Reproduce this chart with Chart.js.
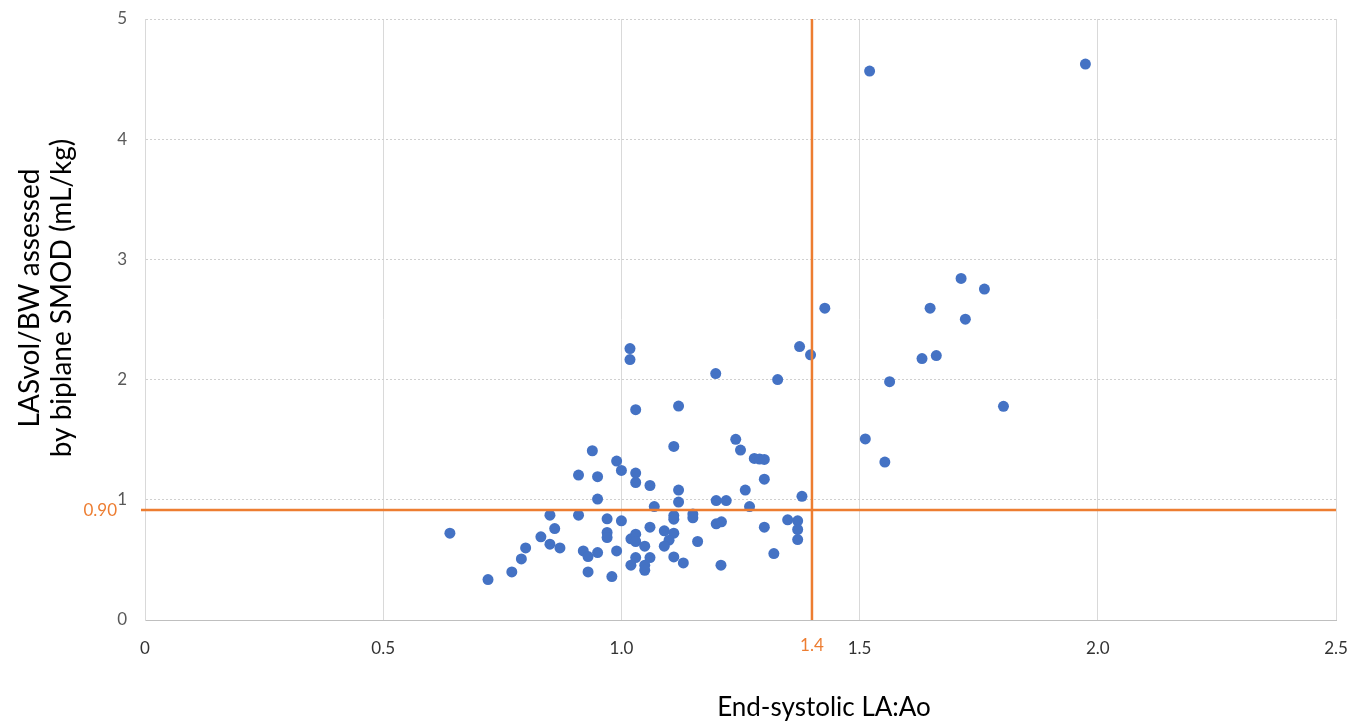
<!DOCTYPE html>
<html>
<head>
<meta charset="utf-8">
<script src="https://cdn.jsdelivr.net/npm/chart.js@4.4.1/dist/chart.umd.min.js"></script>
<style>
  html, body { margin: 0; padding: 0; background: #fff; }
</style>
</head>
<body>
<canvas id="scatter" width="1369" height="723"></canvas>
<script>
// End-systolic LA:Ao ratio (x) vs LASvol/BW (y), one entry per dog
const laAo = [
  1.521, 1.974, 1.713, 1.762, 1.427, 1.648, 1.722, 1.374, 1.397, 1.631,
  1.661, 1.563, 1.802, 1.512, 1.553, 1.379, 1.328, 1.198, 1.018, 1.018,
  1.030, 1.120, 1.110, 1.240, 1.250, 1.279, 1.290, 1.300, 1.300, 1.260,
  1.199, 1.220, 1.120, 1.120, 1.069, 1.269, 0.939, 0.990, 1.000, 1.030,
  1.030, 1.060, 0.910, 0.950, 0.950, 0.850, 0.910, 0.970, 1.000, 1.110,
  1.110, 1.150, 1.150, 1.199, 1.210, 1.349, 1.370, 1.370, 1.370, 1.300,
  0.640, 0.860, 0.831, 0.850, 0.871, 0.799, 0.790, 0.770, 0.720, 0.920,
  0.930, 0.950, 0.930, 0.980, 0.970, 0.970, 0.990, 1.020, 1.030, 1.030,
  1.049, 1.060, 1.030, 1.060, 1.020, 1.049, 1.049, 1.090, 1.110, 1.100,
  1.090, 1.160, 1.110, 1.130, 1.209, 1.320
];
const lasVolBw = [
  4.567, 4.625, 2.842, 2.753, 2.594, 2.594, 2.503, 2.275, 2.206, 2.175,
  2.200, 1.983, 1.778, 1.506, 1.314, 1.029, 2.000, 2.050, 2.258, 2.167,
  1.750, 1.780, 1.444, 1.503, 1.414, 1.344, 1.339, 1.336, 1.172, 1.081,
  0.994, 0.994, 1.081, 0.981, 0.944, 0.944, 1.408, 1.322, 1.244, 1.222,
  1.144, 1.119, 1.206, 1.192, 1.006, 0.872, 0.872, 0.842, 0.825, 0.869,
  0.839, 0.881, 0.850, 0.800, 0.817, 0.833, 0.825, 0.753, 0.669, 0.772,
  0.722, 0.761, 0.692, 0.631, 0.600, 0.600, 0.508, 0.400, 0.336, 0.575,
  0.528, 0.561, 0.400, 0.361, 0.728, 0.686, 0.575, 0.675, 0.714, 0.653,
  0.614, 0.772, 0.519, 0.519, 0.456, 0.456, 0.414, 0.742, 0.722, 0.664,
  0.614, 0.653, 0.525, 0.475, 0.456, 0.553
];

const xTickLabels = ['0', '0.5', '1.0', '1.5', '2.0', '2.5'];
const yTickLabels = ['0', '1', '2', '3', '4', '5'];

// cut-off lines
const cutX = 1.4;
const cutXLabel = '1.4';
const cutY = 0.915;
const cutYLabel = '0.90';

const xTitle = 'End-systolic LA:Ao';
const yTitle = ['LASvol/BW assessed', 'by biplane SMOD (mL/kg)'];

const BLUE = '#4472C4';
const ORANGE = '#ED7D31';
const FONT = 'Lato, "Open Sans", sans-serif';

const points = laAo.map((x, i) => ({ x: x, y: lasVolBw[i] }));

// cut-off lines, their labels and the axis titles
const extras = {
  id: 'extras',
  afterDatasetsDraw(chart) {
    const ctx = chart.ctx;
    const xs = chart.scales.x, ys = chart.scales.y;
    const area = chart.chartArea;
    const px = xs.getPixelForValue(cutX);
    const py = ys.getPixelForValue(cutY);

    ctx.save();
    ctx.strokeStyle = ORANGE;
    ctx.lineWidth = 2.5;
    ctx.beginPath();
    ctx.moveTo(px, area.top);
    ctx.lineTo(px, area.bottom);
    ctx.moveTo(area.left - 4, py);
    ctx.lineTo(area.right, py);
    ctx.stroke();

    ctx.fillStyle = ORANGE;
    ctx.font = '17px ' + FONT;
    ctx.textBaseline = 'middle';
    ctx.textAlign = 'right';
    ctx.fillText(cutYLabel, area.left - 28, py);
    ctx.textAlign = 'center';
    ctx.fillText(cutXLabel, px, area.bottom + 26);

    ctx.fillStyle = '#000';
    ctx.textBaseline = 'alphabetic';
    ctx.font = '26px ' + FONT;
    ctx.fillText(xTitle, 824, 716);

    ctx.font = '28px ' + FONT;
    ctx.translate(0, 298);
    ctx.rotate(-Math.PI / 2);
    ctx.fillText(yTitle[0], 0, 39);
    ctx.fillText(yTitle[1], 0, 71);
    ctx.restore();
  }
};

new Chart(document.getElementById('scatter'), {
  type: 'scatter',
  data: {
    datasets: [{
      data: points,
      backgroundColor: BLUE,
      borderColor: BLUE,
      borderWidth: 0,
      pointRadius: 5.5,
      pointHoverRadius: 5.5
    }]
  },
  options: {
    responsive: false,
    animation: false,
    layout: { padding: { left: 0, right: 33, top: 19, bottom: 0 } },
    plugins: {
      legend: { display: false },
      tooltip: { enabled: false }
    },
    scales: {
      x: {
        type: 'linear',
        min: 0,
        max: 2.5,
        afterFit(scale) {
          scale.height = 103;
          scale.paddingLeft = 0;
          scale.paddingRight = 0;
        },
        grid: { color: '#D9D9D9', lineWidth: 1, drawTicks: false },
        border: { display: true, color: '#BFBFBF', width: 1 },
        ticks: {
          stepSize: 0.5,
          padding: 18,
          color: '#333333',
          font: { family: FONT, size: 17 },
          callback: (v, i) => xTickLabels[i]
        }
      },
      y: {
        type: 'linear',
        min: 0,
        max: 5,
        afterFit(scale) {
          scale.width = 145;
          scale.paddingTop = 0;
          scale.paddingBottom = 0;
        },
        grid: { color: '#D0D0D0', lineWidth: 1, drawTicks: false },
        border: { display: true, color: '#D9D9D9', width: 1, dash: [2, 2] },
        ticks: {
          stepSize: 1,
          padding: 18,
          color: '#595959',
          font: { family: FONT, size: 17 },
          callback: (v, i) => yTickLabels[i]
        }
      }
    }
  },
  plugins: [extras]
});
</script>
</body>
</html>
